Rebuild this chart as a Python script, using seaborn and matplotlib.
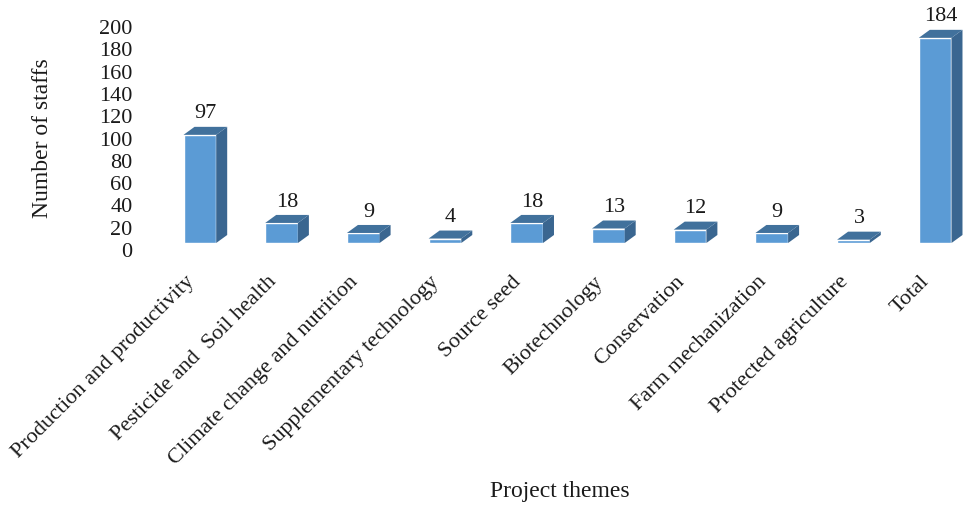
import matplotlib
matplotlib.use("Agg")
import matplotlib.pyplot as plt
import seaborn as sns
import pandas as pd
from matplotlib.patches import Polygon
from matplotlib.transforms import ScaledTranslation

categories = ["Production and productivity", "Pesticide and  Soil health",
              "Climate change and nutrition", "Supplementary technology",
              "Source seed", "Biotechnology", "Conservation",
              "Farm mechanization", "Protected agriculture", "Total"]
values = [97, 18, 9, 4, 18, 13, 12, 9, 3, 184]
yticks = [0, 20, 40, 60, 80, 100, 120, 140, 160, 180, 200]

sns.set_theme(style="white")
plt.rcParams['font.family'] = ['Liberation Serif', 'DejaVu Serif']

W, H = 967, 505
fig = plt.figure(figsize=(W / 100, H / 100), dpi=100)
px_per_cat = 81.7
px_per_unit = 1.115
left_px, bottom_px = 159, 243
xlim = (-0.5, 9.35)
ylim = (0, 200)
ax_w = (xlim[1] - xlim[0]) * px_per_cat
ax_h = (ylim[1] - ylim[0]) * px_per_unit
ax = fig.add_axes([left_px / W, (H - bottom_px) / H, ax_w / W, ax_h / H])

df = pd.DataFrame({"theme": categories, "staff": values})
front = "#5B9BD5"
topc = "#41719C"
sidec = "#3A6690"
txtc = "#1a1a1a"
fs = 16
sns.barplot(data=df, x="theme", y="staff", color=front, width=0.4,
            saturation=1, ax=ax, zorder=2)
ax.set_xlim(*xlim)
ax.set_ylim(*ylim)

dx = 11 / px_per_cat
dy = 8 / px_per_unit
for p, v in zip(ax.patches, values):
    x0 = p.get_x()
    x1 = x0 + p.get_width()
    h = p.get_height()
    side = Polygon([(x1, 0), (x1 + dx, dy), (x1 + dx, h + dy), (x1, h)],
                   closed=True, facecolor=sidec, edgecolor="none",
                   clip_on=False, zorder=3)
    top = Polygon([(x0, h), (x1, h), (x1 + dx, h + dy), (x0 + dx, h + dy)],
                  closed=True, facecolor=topc, edgecolor="none",
                  clip_on=False, zorder=3)
    ax.add_patch(side)
    ax.add_patch(top)
    ax.text(x0 + p.get_width() / 2 + dx / 2, h + dy + 3.0, f"{v}",
            ha="center", va="bottom", fontsize=fs, color=txtc)

for s in ax.spines.values():
    s.set_visible(False)
ax.set_yticks(yticks)
ax.set_yticklabels([str(t) for t in yticks])
ax.tick_params(axis="y", length=0, pad=19, labelsize=fs, labelcolor=txtc)
off = ScaledTranslation(0, -7 / 100, fig.dpi_scale_trans)
for lab in ax.get_yticklabels():
    lab.set_transform(lab.get_transform() + off)

ax.tick_params(axis="x", length=0, pad=14, labelsize=fs, labelcolor=txtc)
ax.set_xticks(range(len(categories)))
ax.set_xticklabels(categories, rotation=45, ha="right", rotation_mode="anchor")
offx = ScaledTranslation(-15 / 100, -10 / 100, fig.dpi_scale_trans)
for lab in ax.get_xticklabels():
    lab.set_transform(lab.get_transform() + offx)

ax.set_xlabel("Project themes", fontsize=17, color=txtc)
ax.xaxis.set_label_coords((560 - left_px) / ax_w, -(481 - bottom_px) / ax_h)
ax.set_ylabel("Number of staffs", fontsize=17, color=txtc)
ax.yaxis.set_label_coords(-(159 - 53) / ax_w, (243 - 138) / ax_h)
ax.grid(False)

fig.savefig("out.png", dpi=100, facecolor="white")
